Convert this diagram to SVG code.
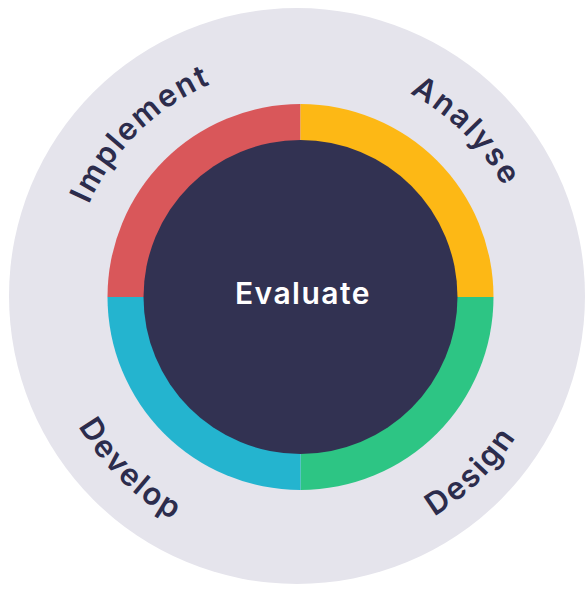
<svg xmlns="http://www.w3.org/2000/svg" xmlns:xlink="http://www.w3.org/1999/xlink" width="587" height="589" viewBox="0 0 587 589">
  <style>
    .lbl { font-family: Inter, "Noto Sans", "Liberation Sans", sans-serif; font-weight: 600; font-size: 31px; fill: #2C2C4C; letter-spacing: 2px; }
    .center { font-family: Inter, "Noto Sans", "Liberation Sans", sans-serif; font-weight: 600; font-size: 30px; fill: #FFFFFF; letter-spacing: 1.5px; }
  </style>
  <defs>
    <path id="arcTop" d="M 69.5,297 A 231 231 0 0 1 531.5,297"/>
    <path id="arcBottom" d="M 43.5,297 A 257 257 0 0 0 557.5,297"/>
  </defs>
  <rect width="587" height="589" fill="#FFFFFF"/>
  <g id="background">
    <circle cx="297" cy="296" r="288" fill="#E5E4EC"/>
  </g>
  <g id="ring">
    <path id="seg-implement" d="M 300.5,297 L 107.5,297 A 193 193 0 0 1 300.5,104 Z" fill="#D9575A"/>
    <path id="seg-analyse" d="M 300.5,297 L 300.5,104 A 193 193 0 0 1 493.5,297 Z" fill="#FDB815"/>
    <path id="seg-design" d="M 300.5,297 L 493.5,297 A 193 193 0 0 1 300.5,490 Z" fill="#2DC584"/>
    <path id="seg-develop" d="M 300.5,297 L 300.5,490 A 193 193 0 0 1 107.5,297 Z" fill="#24B4CF"/>
  </g>
  <g id="evaluate">
    <circle cx="300.5" cy="297" r="157" fill="#323252"/>
    <text class="center" x="303" y="304" text-anchor="middle">Evaluate</text>
  </g>
  <g id="implement">
    <text class="lbl"><textPath xlink:href="#arcTop" href="#arcTop" startOffset="25.3%" text-anchor="middle">Implement</textPath></text>
  </g>
  <g id="analyse">
    <text class="lbl"><textPath xlink:href="#arcTop" href="#arcTop" startOffset="75%" text-anchor="middle">Analyse</textPath></text>
  </g>
  <g id="develop">
    <text class="lbl"><textPath xlink:href="#arcBottom" href="#arcBottom" startOffset="25.2%" text-anchor="middle">Develop</textPath></text>
  </g>
  <g id="design">
    <text class="lbl"><textPath xlink:href="#arcBottom" href="#arcBottom" startOffset="74.6%" text-anchor="middle">Design</textPath></text>
  </g>
</svg>
